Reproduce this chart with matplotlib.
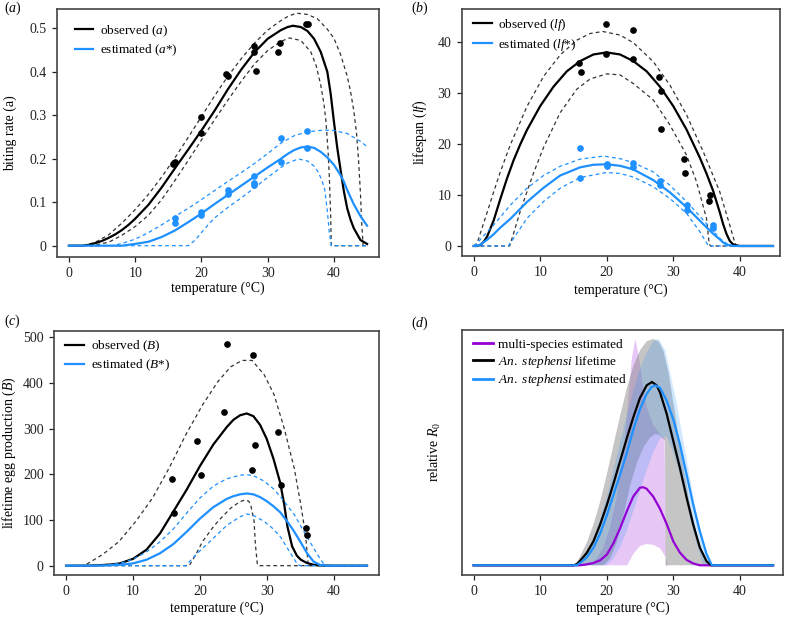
import matplotlib
matplotlib.use("Agg")
import matplotlib.pyplot as plt

plt.rcParams['font.family'] = 'Liberation Serif'
plt.rcParams['mathtext.fontset'] = 'custom'
plt.rcParams['mathtext.rm'] = 'Liberation Serif'
plt.rcParams['mathtext.it'] = 'Liberation Serif:italic'

BLUE = '#1E90FF'
DARK = '#333333'

# ---- panel (a): biting rate ----
a_obs_T = [0, 2, 3, 4, 5, 6, 7, 8, 9, 10, 12, 14, 16, 18, 20, 22, 24, 26, 28, 30, 32, 33, 33.8, 35, 36, 37, 38,
           39, 39.5, 40, 40.5, 41, 41.5, 42, 42.5, 43, 44, 45]
a_obs = [0, 0, 0.002, 0.006, 0.011, 0.018, 0.026, 0.036, 0.048, 0.062, 0.094, 0.134, 0.178, 0.221, 0.265, 0.311,
         0.36, 0.405, 0.445, 0.476, 0.496, 0.503, 0.506, 0.503, 0.494, 0.476, 0.446, 0.40, 0.35, 0.285, 0.225,
         0.174, 0.125, 0.086, 0.06, 0.04, 0.013, 0.004]
a_hi_T = [0, 2.3, 4, 6, 8, 10, 12, 14, 16, 18, 20, 22, 24, 26, 28, 30, 32, 33, 34.3, 36, 37.5, 39, 40, 41, 42,
          42.5, 43, 43.4, 43.7, 44, 44.2, 44.4, 45]
a_hi = [0, 0, 0.008, 0.025, 0.052, 0.083, 0.118, 0.158, 0.202, 0.249, 0.297, 0.345, 0.39, 0.43, 0.466, 0.496,
        0.518, 0.527, 0.535, 0.532, 0.522, 0.498, 0.477, 0.44, 0.39, 0.355, 0.31, 0.26, 0.2, 0.12, 0.05, 0, 0]
a_lo_T = [0, 3.5, 6, 8, 10, 12, 14, 16, 18, 20, 22, 24, 26, 28, 30, 32, 33.3, 35, 36.5, 37.3, 38, 38.5, 38.8,
          39.1, 39.3, 39.5, 39.6, 45]
a_lo = [0, 0, 0.008, 0.024, 0.044, 0.07, 0.106, 0.15, 0.196, 0.243, 0.29, 0.335, 0.378, 0.418, 0.449, 0.47,
        0.478, 0.472, 0.446, 0.415, 0.37, 0.325, 0.285, 0.22, 0.16, 0.07, 0, 0]
a_est_T = [0, 8, 10, 12, 14, 16, 18, 20, 22, 24, 26, 28, 30, 32, 33, 34, 35, 36, 37, 38, 39, 40, 41, 41.5, 42,
           43, 44, 45]
a_est = [0, 0, 0.004, 0.009, 0.02, 0.035, 0.054, 0.074, 0.096, 0.117, 0.138, 0.159, 0.18, 0.2, 0.211, 0.22,
         0.226, 0.228, 0.225, 0.216, 0.203, 0.186, 0.162, 0.147, 0.128, 0.095, 0.068, 0.046]
a_est_hi_T = [0, 6.5, 8, 10, 12, 14, 16, 18, 20, 22, 24, 26, 28, 30, 32, 34, 36, 38.5, 40, 42, 44, 45]
a_est_hi = [0, 0, 0.005, 0.015, 0.03, 0.048, 0.067, 0.086, 0.106, 0.127, 0.148, 0.168, 0.189, 0.212, 0.236,
            0.253, 0.262, 0.266, 0.265, 0.258, 0.24, 0.228]
a_est_lo_T = [0, 18, 19, 20, 21, 22, 24, 26, 28, 30, 32, 33, 34.6, 36, 37, 37.6, 38.2, 38.6, 39, 39.3, 39.6, 45]
a_est_lo = [0, 0, 0.012, 0.03, 0.048, 0.064, 0.088, 0.11, 0.133, 0.157, 0.18, 0.19, 0.1995, 0.195, 0.183, 0.17,
            0.15, 0.13, 0.08, 0.03, 0, 0]
a_pts_T = [15.7, 16.0, 20.0, 19.9, 23.7, 24.0, 28.0, 28.0, 28.2, 31.6, 31.8, 35.8, 36.1]
a_pts = [0.187, 0.193, 0.295, 0.26, 0.395, 0.39, 0.46, 0.446, 0.402, 0.446, 0.467, 0.509, 0.511]
a_est_pts_T = [16, 16, 20, 20, 24, 24, 28, 28, 28, 32, 32, 36, 36]
a_est_pts = [0.064, 0.053, 0.078, 0.071, 0.128, 0.12, 0.16, 0.145, 0.14, 0.247, 0.193, 0.264, 0.224]

# ---- panel (b): lifespan ----
lf_T = [0, 0.5, 1, 1.5, 2, 3, 4, 5, 6, 7, 8, 10, 12, 14, 16, 18, 20, 22, 24, 26, 28, 30, 32, 34, 35, 36, 37,
        37.5, 38, 38.5, 39, 40, 45]
lf = [0, 0, 0.2, 0.8, 1.8, 5, 9.2, 13.2, 16.8, 19.9, 22.7, 27.4, 31.2, 34.2, 36.2, 37.5, 37.9, 37.5, 36.2,
      34.2, 31.2, 27.4, 22.8, 17.3, 14.2, 10.8, 6.6, 4.3, 2.4, 1.0, 0.3, 0, 0]
lf_hi_T = [0, 0.5, 1, 2, 3, 4, 5.5, 8, 10.5, 13, 15.5, 17.5, 19.4, 22, 24, 27, 29.5, 32, 34.5, 37, 38.5, 39.3,
           39.6, 45]
lf_hi = [0, 0.5, 2.5, 6.5, 10.6, 14.5, 19.8, 27.3, 33.2, 37.4, 40.3, 41.6, 42, 41.3, 39.8, 36.1, 31.5, 25.7,
         18.5, 10.6, 4.1, 0.5, 0, 0]
lf_lo_T = [0, 5.4, 6, 7, 8, 9, 10.5, 13, 15.5, 17.5, 20, 22, 24, 27, 29.5, 32, 33.5, 35, 35.4, 35.6, 45]
lf_lo = [0, 0, 2.5, 6.8, 10.6, 14.3, 19.3, 26.1, 30.7, 32.7, 33.7, 33.5, 31.8, 28.6, 23.7, 17.8, 12.6, 5.4,
         0.5, 0, 0]
lf_est_T = [0, 0.5, 1, 2, 3, 4, 5.5, 8, 10.5, 13, 16, 18, 20, 22, 24, 27, 29.5, 32, 34.5, 36, 37, 37.5, 38,
            39, 45]
lf_est = [0, 0, 0.3, 1.2, 2.3, 3.6, 5.3, 8.6, 11.4, 13.8, 15.4, 15.9, 16, 15.7, 15.0, 12.9, 10.5, 7.6, 4.3,
          2.4, 1.3, 0.7, 0.3, 0, 0]
lf_est_hi_T = [0, 0.5, 1, 3, 5.5, 8, 10.5, 13, 16, 19.5, 22, 24, 27, 29.5, 32, 34.5, 37, 38.5, 45]
lf_est_hi = [0, 0.5, 1.3, 4.1, 8.0, 11.3, 13.8, 15.6, 17.0, 17.6, 17.1, 16.3, 14.5, 11.9, 8.7, 5.1, 1.5, 0, 0]
lf_est_lo_T = [0, 5.2, 6, 8, 10.5, 13, 16, 20, 22, 24, 27, 29.5, 32, 34, 35.3, 45]
lf_est_lo = [0, 0, 1.5, 5.4, 8.7, 11.3, 13.4, 14.4, 14.2, 13.5, 11.6, 9.3, 6.4, 2.8, 0, 0]
lf_pts_T = [15.8, 16.2, 19.9, 19.9, 24.0, 24.0, 27.8, 28.1, 28.1, 31.6, 31.7, 35.6, 35.4]
lf_pts = [35.8, 34.0, 43.5, 37.6, 42.2, 36.7, 33.0, 30.4, 22.9, 17.0, 14.2, 10.0, 8.8]
lf_est_pts_T = [16, 16, 20, 20, 24, 24, 28, 28, 32, 32, 36, 36]
lf_est_pts = [19.1, 13.4, 16.0, 15.6, 16.3, 15.5, 12.8, 11.9, 8.0, 7.0, 4.1, 3.5]

# ---- panel (c): lifetime egg production ----
B_T = [0, 3, 5, 7, 8, 10, 12, 14, 16, 18, 20, 22, 24, 25, 26, 27, 28, 29, 30, 31, 32, 32.6, 33.1, 33.8, 34.5,
       35.1, 36, 37, 38, 40, 45]
B = [0, 0, 1, 3, 5, 15, 35, 70, 118, 166, 218, 265, 303, 319, 329, 333, 327, 308, 277, 234, 182, 135, 85, 42,
     22, 13, 6, 2, 0.5, 0, 0]
B_hi_T = [0, 2.4, 3, 5.4, 7.9, 10.4, 12.9, 15.4, 17.9, 20.4, 22.7, 24.6, 26.3, 27.8, 29.6, 31.1, 32.6, 34.1,
          35.1, 35.8, 36.2, 36.3, 45]
B_hi = [0, 0, 3, 24, 53, 97, 148, 214, 287, 352, 403, 435, 449, 449, 418, 374, 301, 214, 133, 68, 2, 0, 0]
B_lo_T = [0, 18.4, 19.4, 20.4, 22, 22.7, 24.6, 26, 26.8, 27.3, 27.6, 28.1, 28.3, 28.6, 28.8, 45]
B_lo = [0, 0, 25, 53, 85, 97, 126, 140, 144, 141, 133, 97, 46, 2, 0, 0]
B_est_T = [0, 4, 6, 8, 10, 12, 14, 16, 18, 20, 22, 24, 25, 26, 27, 28, 29, 30, 31, 32, 33, 34, 35, 36, 37,
           38, 39, 45]
B_est = [0, 0, 0.5, 2, 5, 13, 27, 47, 74, 103, 128, 146, 152, 156, 158, 156, 150, 141, 130, 117, 98, 77, 53,
         28, 9, 1.5, 0, 0]
B_est_hi_T = [0, 4, 6, 8, 10, 12, 14, 16, 18, 20, 22, 24, 26, 27, 28, 29.6, 31, 32.1, 34.1, 36.1, 37.6,
              38.6, 39, 45]
B_est_hi = [0, 0, 1, 5, 14, 30, 52, 80, 115, 148, 174, 190, 198, 199, 197, 185, 168, 150, 112, 61, 24, 2, 0, 0]
B_est_lo_T = [0, 17.9, 18.5, 19.4, 20.4, 22, 24, 26, 27, 28, 29.6, 31, 32.1, 33.6, 34.6, 35, 45]
B_est_lo = [0, 0, 10, 24, 38, 60, 88, 107, 113, 110, 97, 80, 62, 26, 3, 0, 0]
B_pts_T = [15.8, 16.1, 19.6, 20.2, 23.6, 24.1, 27.9, 27.8, 28.2, 31.7, 32.2, 35.8, 36.0]
B_pts = [190, 115, 272, 199, 336, 486, 460, 210, 264, 293, 176, 82, 68]

# ---- panel (d): relative R0 ----
multi_T = [0, 16, 17, 18, 19, 20, 21, 22, 23, 24, 25, 25.5, 26, 27, 28, 29, 30, 31, 32, 33, 34, 45]
multi = [0, 0, 0.004, 0.01, 0.022, 0.047, 0.097, 0.163, 0.238, 0.305, 0.343, 0.345, 0.338, 0.303, 0.25, 0.183,
         0.106, 0.056, 0.024, 0.008, 0, 0]
multi_lo_T = [0, 23.1, 24, 25, 26, 27, 28, 28.8, 29.2, 45]
multi_lo = [0, 0, 0.05, 0.085, 0.094, 0.09, 0.075, 0.04, 0, 0]
multi_hi_T = [0, 17.5, 18.5, 19.5, 20.5, 21.5, 22.5, 23.2, 23.8, 24.3, 24.8, 25.4, 26, 27, 28, 28.7, 28.9, 45]
multi_hi = [0, 0, 0.03, 0.08, 0.17, 0.3, 0.5, 0.72, 0.92, 1.0, 0.93, 0.8, 0.7, 0.62, 0.58, 0.56, 0, 0]
life_T = [0, 15, 15.5, 16, 17, 18, 19, 20, 21, 22, 23, 24, 25, 26, 26.8, 27.5, 28, 29, 30, 31, 32, 33, 34, 35,
          35.7, 45]
life = [0, 0, 0.005, 0.02, 0.055, 0.106, 0.18, 0.265, 0.36, 0.46, 0.56, 0.655, 0.74, 0.795, 0.81, 0.795, 0.765,
        0.67, 0.55, 0.43, 0.3, 0.18, 0.078, 0.018, 0, 0]
life_lo_T = [0, 19.5, 20.5, 21.5, 22.5, 23.5, 24.5, 25.5, 26.5, 27.3, 28, 28.5, 28.75, 28.85, 45]
life_lo = [0, 0, 0.03, 0.1, 0.22, 0.35, 0.45, 0.52, 0.565, 0.58, 0.575, 0.56, 0.55, 0, 0]
life_hi_T = [0, 15.3, 16, 17, 18, 19, 20, 21, 22, 23, 24, 25, 26, 27, 27.8, 28.5, 29.3, 30, 31.3, 32.5, 33.8,
             35, 35.6, 45]
life_hi = [0, 0, 0.04, 0.1, 0.18, 0.28, 0.4, 0.53, 0.66, 0.78, 0.88, 0.95, 0.99, 1.0, 0.99, 0.95, 0.85, 0.72,
           0.48, 0.27, 0.106, 0.018, 0, 0]
est_T = [0, 15.5, 16, 17, 18, 19, 20, 21, 22, 23, 24, 25, 26, 26.7, 27.3, 28, 29, 30, 31, 32, 33, 34, 35, 35.8, 45]
est = [0, 0, 0.01, 0.035, 0.077, 0.14, 0.22, 0.31, 0.4, 0.495, 0.6, 0.69, 0.757, 0.787, 0.795, 0.785, 0.728,
       0.645, 0.535, 0.402, 0.268, 0.15, 0.05, 0, 0]
est_lo_T = [0, 20, 21, 22, 23, 24, 25, 26, 27, 28, 29, 30, 31, 32, 33, 34, 34.5, 45]
est_lo = [0, 0, 0.03, 0.08, 0.15, 0.24, 0.33, 0.42, 0.5, 0.56, 0.57, 0.5, 0.4, 0.28, 0.15, 0.05, 0, 0]
est_hi_T = [0, 15.5, 16, 17, 18, 19, 20, 21, 22, 23, 24, 25, 26, 27, 27.8, 28.8, 30.5, 32, 33.5, 34.8, 35.6, 45]
est_hi = [0, 0, 0.02, 0.06, 0.12, 0.2, 0.3, 0.42, 0.54, 0.66, 0.77, 0.87, 0.94, 0.99, 1.0, 0.95, 0.72, 0.47,
          0.23, 0.065, 0, 0]

xticks = [0, 10, 20, 30, 40]

fig = plt.figure(figsize=(7.86, 6.17), dpi=100)
axa = fig.add_axes([0.0725, 0.5835, 0.4097, 0.4019])
axb = fig.add_axes([0.5878, 0.5851, 0.4046, 0.4003])
axc = fig.add_axes([0.0691, 0.0686, 0.4131, 0.3954])
axd = fig.add_axes([0.5878, 0.0686, 0.4084, 0.397])


def style(ax, xlim, ylim):
    ax.set_xlim(*xlim)
    ax.set_ylim(*ylim)
    ax.set_xticks(xticks)
    ax.tick_params(direction='out', length=3.6, width=0.9, labelsize=10, colors='#222222')
    ax.tick_params(axis='y', pad=4)
    for s in ax.spines.values():
        s.set_linewidth(1.2)
        s.set_color('#444444')


def band_plot(ax, T, v, Thi, vhi, Tlo, vlo, col, dash_col):
    ax.plot(Thi, vhi, color=dash_col, lw=0.9, ls=(0, (3, 2.5)))
    ax.plot(Tlo, vlo, color=dash_col, lw=0.9, ls=(0, (3, 2.5)))
    return ax.plot(T, v, color=col, lw=1.6)[0]


def shade(ax, Thi, vhi, Tlo, vlo, col, alpha):
    ax.fill(Thi + Tlo[::-1], vhi + vlo[::-1], color=col, alpha=alpha, lw=0)


leg_kw = dict(loc='upper left', frameon=False, fontsize=9.5, handlelength=1.4, handletextpad=0.5,
              labelspacing=0.3, borderaxespad=0.2)

# (a)
l1 = band_plot(axa, a_obs_T, a_obs, a_hi_T, a_hi, a_lo_T, a_lo, 'black', DARK)
l2 = band_plot(axa, a_est_T, a_est, a_est_hi_T, a_est_hi, a_est_lo_T, a_est_lo, BLUE, BLUE)
axa.plot(a_pts_T, a_pts, 'o', color='black', ms=3.8)
axa.plot(a_est_pts_T, a_est_pts, 'o', color=BLUE, ms=3.8)
style(axa, (-1.8, 46.8), (-0.026, 0.5445))
axa.set_yticks([0, 0.1, 0.2, 0.3, 0.4, 0.5])
axa.set_yticklabels(['0', '0.1', '0.2', '0.3', '0.4', '0.5'])
axa.set_ylabel('biting rate (a)', fontsize=10)
axa.yaxis.set_label_coords(-0.125, 0.5)
axa.set_xlabel('temperature (°C)', fontsize=10)
axa.xaxis.set_label_coords(0.5, -0.1)
axa.legend([l1, l2], ['observed ($a$)', 'estimated ($a$*)'], bbox_to_anchor=(0.03, 0.975), **leg_kw)

# (b)
l1 = band_plot(axb, lf_T, lf, lf_hi_T, lf_hi, lf_lo_T, lf_lo, 'black', DARK)
l2 = band_plot(axb, lf_est_T, lf_est, lf_est_hi_T, lf_est_hi, lf_est_lo_T, lf_est_lo, BLUE, BLUE)
axb.plot(lf_pts_T, lf_pts, 'o', color='black', ms=3.8)
axb.plot(lf_est_pts_T, lf_est_pts, 'o', color=BLUE, ms=3.8)
style(axb, (-1.76, 46.06), (-1.96, 46.4))
axb.set_yticks([0, 10, 20, 30, 40])
axb.set_ylabel('lifespan ($lf$)', fontsize=10)
axb.yaxis.set_label_coords(-0.105, 0.5)
axb.set_xlabel('temperature (°C)', fontsize=10)
axb.xaxis.set_label_coords(0.5, -0.11)
axb.legend([l1, l2], ['observed ($lf$)', 'estimated ($lf$*)'], bbox_to_anchor=(0.01, 1.0), **leg_kw)

# (c)
l1 = band_plot(axc, B_T, B, B_hi_T, B_hi, B_lo_T, B_lo, 'black', DARK)
l2 = band_plot(axc, B_est_T, B_est, B_est_hi_T, B_est_hi, B_est_lo_T, B_est_lo, BLUE, BLUE)
axc.plot(B_pts_T, B_pts, 'o', color='black', ms=3.8)
style(axc, (-1.8, 46.8), (-19.7, 514))
axc.set_yticks([0, 100, 200, 300, 400, 500])
axc.set_ylabel('lifetime egg production ($B$)', fontsize=10)
axc.yaxis.set_label_coords(-0.113, 0.5)
axc.set_xlabel('temperature (°C)', fontsize=10)
axc.xaxis.set_label_coords(0.5, -0.11)
axc.legend([l1, l2], ['observed ($B$)', 'estimated ($B$*)'], bbox_to_anchor=(0.01, 1.0), **leg_kw)

# (d)
shade(axd, multi_hi_T, multi_hi, multi_lo_T, multi_lo, 'darkviolet', 0.22)
shade(axd, life_hi_T, life_hi, life_lo_T, life_lo, 'grey', 0.45)
shade(axd, est_hi_T, est_hi, est_lo_T, est_lo, BLUE, 0.2)
l1, = axd.plot(multi_T, multi, color='darkviolet', lw=1.6)
l2, = axd.plot(life_T, life, color='black', lw=1.6)
l3, = axd.plot(est_T, est, color=BLUE, lw=1.6)
style(axd, (-1.76, 46.5), (-0.0415, 1.041))
axd.set_yticks([])
axd.set_ylabel('relative $R_0$', fontsize=10)
axd.yaxis.set_label_coords(-0.06, 0.5)
axd.set_xlabel('temperature (°C)', fontsize=10)
axd.xaxis.set_label_coords(0.5, -0.11)
axd.legend([l1, l2, l3], ['multi-species estimated', r'$An.\ stephensi$ lifetime',
                          r'$An.\ stephensi$ estimated'],
           loc='upper left', frameon=False, fontsize=9.5, handlelength=1.5, handletextpad=0.4,
           labelspacing=0.2, bbox_to_anchor=(0.01, 0.995), borderaxespad=0.2)
for h in axd.get_legend().get_lines():
    h.set_linewidth(2.0)

fig.text(0.005, 0.987, '($a$)', fontsize=10, va='center')
fig.text(0.523, 0.987, '($b$)', fontsize=10, va='center')
fig.text(0.005, 0.479, '($c$)', fontsize=10, va='center')
fig.text(0.523, 0.476, '($d$)', fontsize=10, va='center')

plt.savefig('out.png', dpi=100)
